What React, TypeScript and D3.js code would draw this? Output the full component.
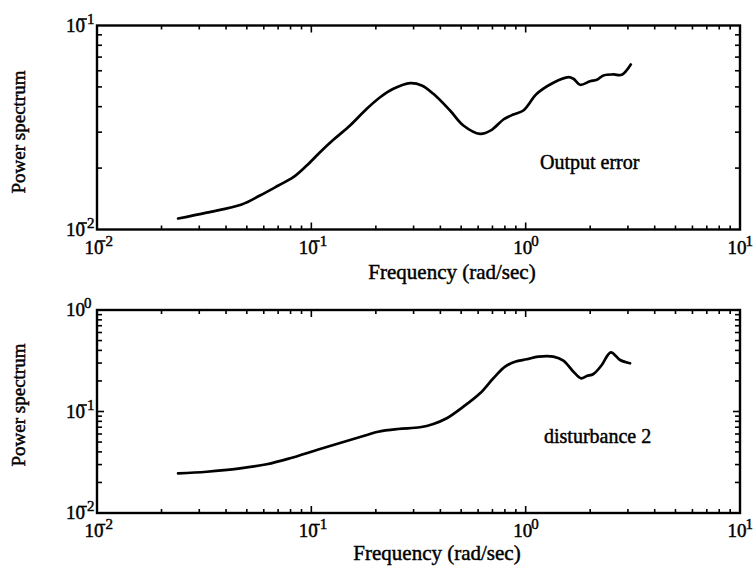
import React from 'react';
import * as d3 from 'd3';

// ---- data ----
const freqTop = [0.0239, 0.0325, 0.0473, 0.0576, 0.0702, 0.0824, 0.0952, 0.1098, 0.1267, 0.1516,
  0.1814, 0.2094, 0.2415, 0.289, 0.3274, 0.3709, 0.4438, 0.5121, 0.6126, 0.6947,
  0.787, 0.8762, 0.9757, 1.1268, 1.347, 1.582, 1.670, 1.794, 1.998, 2.147,
  2.305, 2.567, 2.809, 3.093];
const powerTop = [0.01132, 0.0121, 0.01326, 0.01468, 0.01643, 0.01804, 0.02059, 0.02393, 0.02753, 0.03234,
  0.03905, 0.04449, 0.04894, 0.05215, 0.05081, 0.04624, 0.03831, 0.03234, 0.02944, 0.03081,
  0.03461, 0.03662, 0.03831, 0.04624, 0.05238, 0.05581, 0.05480, 0.05121, 0.05333, 0.05417,
  0.05689, 0.05754, 0.05735, 0.06436];

const freqBottom = [0.0239, 0.0325, 0.0465, 0.0619, 0.0795, 0.106, 0.1516, 0.1814, 0.2048, 0.2539,
  0.3214, 0.3709, 0.4283, 0.5121, 0.6126, 0.7067, 0.8015, 0.892, 1.012, 1.146,
  1.347, 1.499, 1.670, 1.814, 1.928, 2.07, 2.265, 2.495, 2.758, 3.07];
const powerBottom = [0.0246, 0.0255, 0.0275, 0.0302, 0.0346, 0.0418, 0.0524, 0.0586, 0.0632, 0.0672,
  0.0699, 0.0753, 0.0857, 0.1115, 0.1511, 0.2124, 0.2763, 0.3095, 0.3268, 0.3467,
  0.3467, 0.3166, 0.2467, 0.2124, 0.2238, 0.2342, 0.2872, 0.3831, 0.3216, 0.2984];

const xDomain = [0.01, 10];
const xTickExps = [-2, -1, 0, 1];
const yDomainTop = [0.01, 0.1];
const yTickExpsTop = [-2, -1];
const yDomainBottom = [0.01, 1];
const yTickExpsBottom = [-2, -1, 0];

const xLabelText = 'Frequency (rad/sec)';
const yLabelText = 'Power spectrum';
const seriesTopName = 'Output error';
const seriesBottomName = 'disturbance 2';

const FONT = "'Liberation Serif', 'Times New Roman', Times, serif";
const INK = '#000';
const TEXT_STROKE = 0.45;

function Pow({ x, y, exp, anchor }) {
  const baseSize = 19;
  const supSize = 15;
  const baseW = 19;
  const right = anchor === 'end' ? x : x + baseW / 2;
  const left = right - baseW;
  const neg = exp < 0;
  return (
    <g fontFamily={FONT} fill={INK} stroke={INK} strokeWidth={TEXT_STROKE}>
      <text x={left} y={y} fontSize={baseSize}>10</text>
      {neg && (
        <line x1={right - 7} x2={right + 2} y1={y - 12.5} y2={y - 12.5} stroke={INK} strokeWidth={1.6} />
      )}
      <text x={neg ? right + 2 : right - 1} y={y - 8} fontSize={supSize}>{Math.abs(exp)}</text>
    </g>
  );
}

function Panel({ freq, power, yDomain, yExps, frame, name, namePos, xLabelPos, yLabelPos }) {
  const { left, right, top, bottom } = frame;
  const x = d3.scaleLog().domain(xDomain).range([left, right]);
  const y = d3.scaleLog().domain(yDomain).range([bottom, top]);
  const isMajor = (t) => Math.abs(Math.log10(t) - Math.round(Math.log10(t))) < 1e-9;
  const xt = x.ticks().filter((t) => t > xDomain[0] * 1.0001 && t < xDomain[1] * 0.9999);
  const yt = y.ticks().filter((t) => t > yDomain[0] * 1.0001 && t < yDomain[1] * 0.9999);
  const line = d3
    .line()
    .x((d) => x(d[0]))
    .y((d) => y(d[1]))
    .curve(d3.curveCatmullRom.alpha(0.5));
  const pts = freq.map((f, i) => [f, power[i]]);
  const textProps = { fontFamily: FONT, fill: INK, stroke: INK, strokeWidth: TEXT_STROKE };
  return (
    <g>
      {xt.map((t, i) => {
        const L = isMajor(t) ? 7 : 4;
        return (
          <g key={'x' + i} stroke={INK} strokeWidth={1.6}>
            <line x1={x(t)} x2={x(t)} y1={bottom} y2={bottom - L} />
            <line x1={x(t)} x2={x(t)} y1={top} y2={top + L} />
          </g>
        );
      })}
      {yt.map((t, i) => {
        const L = isMajor(t) ? 7 : 5;
        return (
          <g key={'y' + i} stroke={INK} strokeWidth={1.6}>
            <line x1={left} x2={left + L} y1={y(t)} y2={y(t)} />
            <line x1={right} x2={right - L} y1={y(t)} y2={y(t)} />
          </g>
        );
      })}
      <rect x={left} y={top} width={right - left} height={bottom - top} fill="none" stroke={INK} strokeWidth={2.4} />
      <path d={line(pts)} fill="none" stroke={INK} strokeWidth={2.7} strokeLinejoin="round" strokeLinecap="round" />
      {xTickExps.map((e) => (
        <Pow key={'xl' + e} x={x(Math.pow(10, e)) - 3} y={bottom + 24} exp={e} anchor="middle" />
      ))}
      {yExps.map((e) => (
        <Pow key={'yl' + e} x={left - 12} y={y(Math.pow(10, e)) + 6} exp={e} anchor="end" />
      ))}
      <text x={xLabelPos[0]} y={xLabelPos[1]} fontSize={21} textAnchor="middle" {...textProps}>
        {xLabelText}
      </text>
      <text
        transform={`translate(${yLabelPos[0]},${yLabelPos[1]}) rotate(-90)`}
        fontSize={19}
        textAnchor="middle"
        {...textProps}
      >
        {yLabelText}
      </text>
      <text x={namePos[0]} y={namePos[1]} fontSize={20} {...textProps}>
        {name}
      </text>
    </g>
  );
}

export default function App() {
  return (
    <svg width={756} height={575} viewBox="0 0 756 575" style={{ position: 'absolute', left: 0, top: 0, background: '#fff' }}>
      <rect width={756} height={575} fill="#fff" />
      <Panel
        freq={freqTop}
        power={powerTop}
        yDomain={yDomainTop}
        yExps={yTickExpsTop}
        frame={{ left: 97, right: 740, top: 25.5, bottom: 229.5 }}
        name={seriesTopName}
        namePos={[540, 169]}
        xLabelPos={[452, 279]}
        yLabelPos={[25, 132]}
      />
      <Panel
        freq={freqBottom}
        power={powerBottom}
        yDomain={yDomainBottom}
        yExps={yTickExpsBottom}
        frame={{ left: 97, right: 740, top: 310, bottom: 513 }}
        name={seriesBottomName}
        namePos={[544, 443]}
        xLabelPos={[437, 560]}
        yLabelPos={[25, 405]}
      />
    </svg>
  );
}
